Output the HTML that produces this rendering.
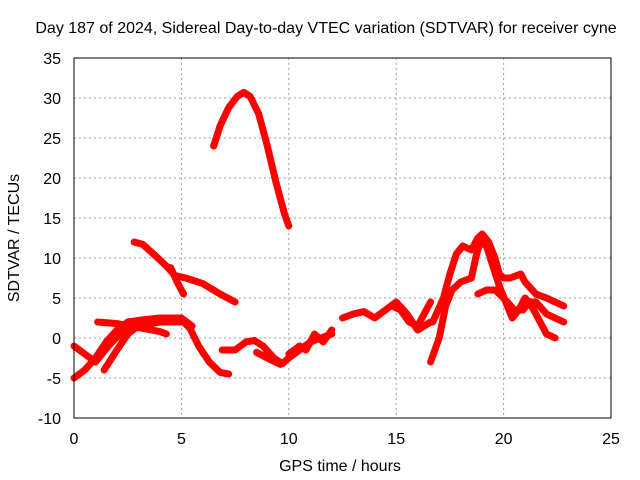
<!DOCTYPE html>
<html><head><meta charset="utf-8"><style>
body{margin:0;background:#fff}
svg{display:block;font-family:"Liberation Sans",sans-serif}
</style></head><body>
<svg id="chart" width="640" height="480" viewBox="0 0 640 480">
<text x="326" y="33" font-size="16" text-anchor="middle">Day 187 of 2024, Sidereal Day-to-day VTEC variation (SDTVAR) for receiver cyne</text>
<g id="grid"></g>
<g id="ticks" font-size="16"></g>
<g id="series"></g>
<rect x="74" y="58" width="537" height="360" fill="none" stroke="#000" stroke-width="1"/>
<text x="340" y="471" font-size="16" text-anchor="middle">GPS time / hours</text>
<text transform="translate(19,238) rotate(-90)" font-size="16" text-anchor="middle">SDTVAR / TECUs</text>
</svg>
<script>
const xTicks=[0,5,10,15,20,25];
const yTicks=[-10,-5,0,5,10,15,20,25,30,35];
const seriesA=[[6.5,24],[6.8,26.5],[7.2,28.8],[7.6,30.2],[7.9,30.7],[8.2,30.2],[8.6,28],[9.0,24],[9.4,19.5],[9.8,15.5],[10.0,14]];
const seriesB=[[2.8,12],[3.2,11.7],[3.7,10.5],[4.3,9],[4.7,7.8],[5.2,7.5],[6,6.8],[6.8,5.5],[7.5,4.5]];
const seriesB2=[[4.5,8.8],[4.8,7],[5.1,5.5]];
const seriesC=[[0,-1],[1,-3],[1.6,-1],[2.5,1.5],[3,2],[3.5,2],[4,2.3],[4.5,2.5],[5,2.3],[5.4,1.2],[5.8,-1],[6.3,-3],[6.8,-4.3],[7.2,-4.5]];
const seriesD=[[0,-5],[0.5,-4],[1,-2.5],[1.5,-0.5],[2,1],[2.5,2],[3,2.2],[4,2.5],[5,2.5],[5.5,1.5]];
const seriesE=[[1.1,2],[2,1.8],[3,1.3],[4,0.8],[4.3,0.5]];
const seriesF=[[1.4,-4],[2,-1.5],[2.5,0.5],[3,1.5],[4,2],[5,2]];
const seriesG=[[6.9,-1.5],[7.5,-1.5],[8,-0.5],[8.4,-0.3],[8.8,-1],[9.3,-2.5],[9.7,-3.2],[10,-2.5],[10.5,-1.5],[11,-0.5],[11.5,0],[12,0.5]];
const seriesH=[[8.5,-1.8],[9,-2.5],[9.6,-3.3]];
const seriesI=[[10,-2],[10.5,-1],[10.8,-1.5],[11.2,0.5],[11.6,-0.5],[12,1]];
const seriesJ=[[12.5,2.5],[13,3],[13.5,3.3],[14,2.5],[14.5,3.5],[15,4.5],[15.5,3],[16,1],[16.3,1.5],[16.6,2]];
const seriesK=[[14.8,4],[15.2,3.5],[15.6,2],[16,1.5],[16.3,3],[16.6,4.5]];
const seriesL=[[16.7,2],[17.2,5],[17.5,8],[17.8,10.5],[18.1,11.5],[18.5,11],[18.8,12.5],[19.0,13],[19.3,12],[19.6,10],[19.8,8],[20,7.5],[20.3,7.5],[20.8,8],[21,7],[21.5,5.5],[22,5],[22.8,4]];
const seriesM=[[16.6,-3],[17,0],[17.3,4],[17.6,6],[18,7],[18.5,7.5],[18.7,10],[18.9,12],[19.2,11.5],[19.5,9],[19.8,6.5],[20.1,4.5],[20.4,2.5],[20.7,3.5],[21,5],[21.3,4],[21.7,2],[22,0.5],[22.4,0]];
const seriesN=[[18.8,5.5],[19.2,6],[19.6,6],[20,5],[20.5,3.5],[20.9,3.5],[21.2,4.5],[21.5,4.5],[22,3],[22.8,2]];
const allSeries=[seriesA,seriesB,seriesB2,seriesC,seriesD,seriesE,seriesF,seriesG,seriesH,seriesI,seriesJ,seriesK,seriesL,seriesM,seriesN];
const X=h=>74+h*537/25, Y=v=>418-(v+10)*8;
const NS="http://www.w3.org/2000/svg";
const grid=document.getElementById('grid'),ticks=document.getElementById('ticks'),ser=document.getElementById('series');
function mk(t,a,p){const e=document.createElementNS(NS,t);for(const k in a)e.setAttribute(k,a[k]);p.appendChild(e);return e;}
xTicks.forEach(t=>{
 const x=X(t);
 if(t>0&&t<25){const l=mk('line',{x1:x,x2:x,y1:58,y2:418,stroke:'#a0a0a0','stroke-dasharray':'2,3'},grid);
 
 }
 const s=mk('text',{x:x,y:444,'text-anchor':'middle'},ticks);s.textContent=t;
 
 
});
yTicks.forEach(t=>{
 const y=Y(t);
 if(t>-10&&t<35){const l=mk('line',{x1:74,x2:611,y1:y,y2:y,stroke:'#a0a0a0','stroke-dasharray':'2,3'},grid);
 
 }
 const s=mk('text',{x:61,y:y+6,'text-anchor':'end'},ticks);s.textContent=t;
 
 
});
allSeries.forEach((s,i)=>{
 const p=mk('polyline',{points:s.map(d=>X(d[0])+','+Y(d[1])).join(' '),fill:'none',stroke:'#ff0000','stroke-width':7,'stroke-linejoin':'round','stroke-linecap':'round'},ser);
 
 
});
</script>
</body></html>
